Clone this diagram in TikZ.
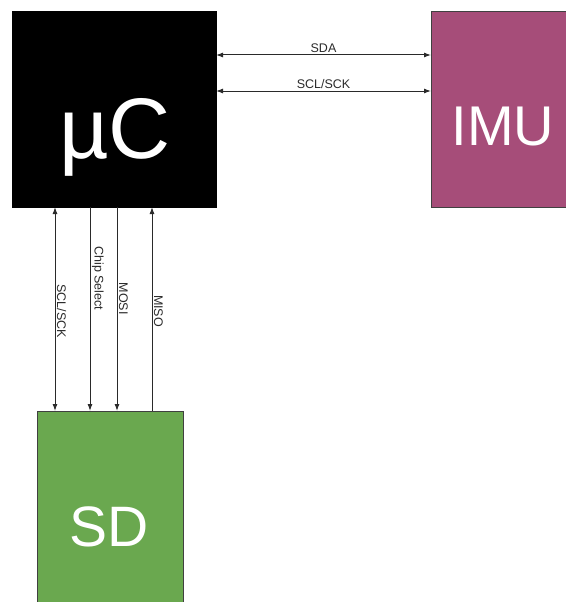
\documentclass[tikz,border=0pt]{standalone}
\usepackage{fontspec}
\setmainfont{Liberation Sans}
\usetikzlibrary{arrows.meta}
\definecolor{imucol}{HTML}{A64D79}
\definecolor{sdcol}{HTML}{6AA84F}
\definecolor{linecol}{HTML}{2A2A2A}
\tikzset{
  box/.style={draw=#1, line width=0.8pt, inner sep=0pt, outer sep=0pt},
  bigtext/.style={text=white, anchor=base, inner sep=0pt},
  sig/.style={draw=linecol, line width=1pt, arrows={-}, >={Latex[length=7pt,width=5pt]}},
  lab/.style={font=\fontsize{12.5}{12.5}\selectfont, text=linecol, inner sep=1.5pt},
}
\begin{document}
\begin{tikzpicture}[x=1pt,y=-1pt]
\useasboundingbox (0,0) rectangle (565,602);
% boxes
\node[box=black, fill=black, minimum width=204pt, minimum height=196pt] (uc) at (114,109) {};
\node[box=black!75, fill=imucol, minimum width=136pt, minimum height=196pt] (imu) at (499,109) {};
\node[box=black!75, fill=sdcol, minimum width=146pt, minimum height=196pt] (sd) at (110,509) {};
% big texts
\node[bigtext, font=\fontsize{86}{86}\selectfont] (uct) at (115,158) {µC};
\node[bigtext, font=\fontsize{56}{56}\selectfont] (imut) at (503,145) {IMU};
\node[bigtext, font=\fontsize{57}{57}\selectfont] (sdt) at (109,546) {SD};
% horizontal connectors
\draw[sig, <->] (uc.east |- 0,55) -- node[lab, above] (sda) {SDA} (imu.west |- 0,55);
\draw[sig, <->] (uc.east |- 0,91) -- node[lab, above] (sclh) {SCL/SCK} (imu.west |- 0,91);
% vertical connectors
\draw[sig, <->] (uc.south -| 55,0) -- node[lab, rotate=-90, anchor=south, pos=0.51] (sclv) {SCL/SCK} (sd.north -| 55,0);
\draw[sig, ->] (uc.south -| 90,0) -- node[lab, rotate=-90, anchor=south, pos=0.35] (cs) {Chip Select} (sd.north -| 90,0);
\draw[sig, ->] (uc.south -| 117,0) -- node[lab, rotate=-90, anchor=south, pos=0.45] (mosi) {MOSI} (sd.north -| 117,0);
\draw[sig, <-] (uc.south -| 152,0) -- node[lab, rotate=-90, anchor=south, pos=0.51] (miso) {MISO} (sd.north -| 152,0);
\end{tikzpicture}
\end{document}
